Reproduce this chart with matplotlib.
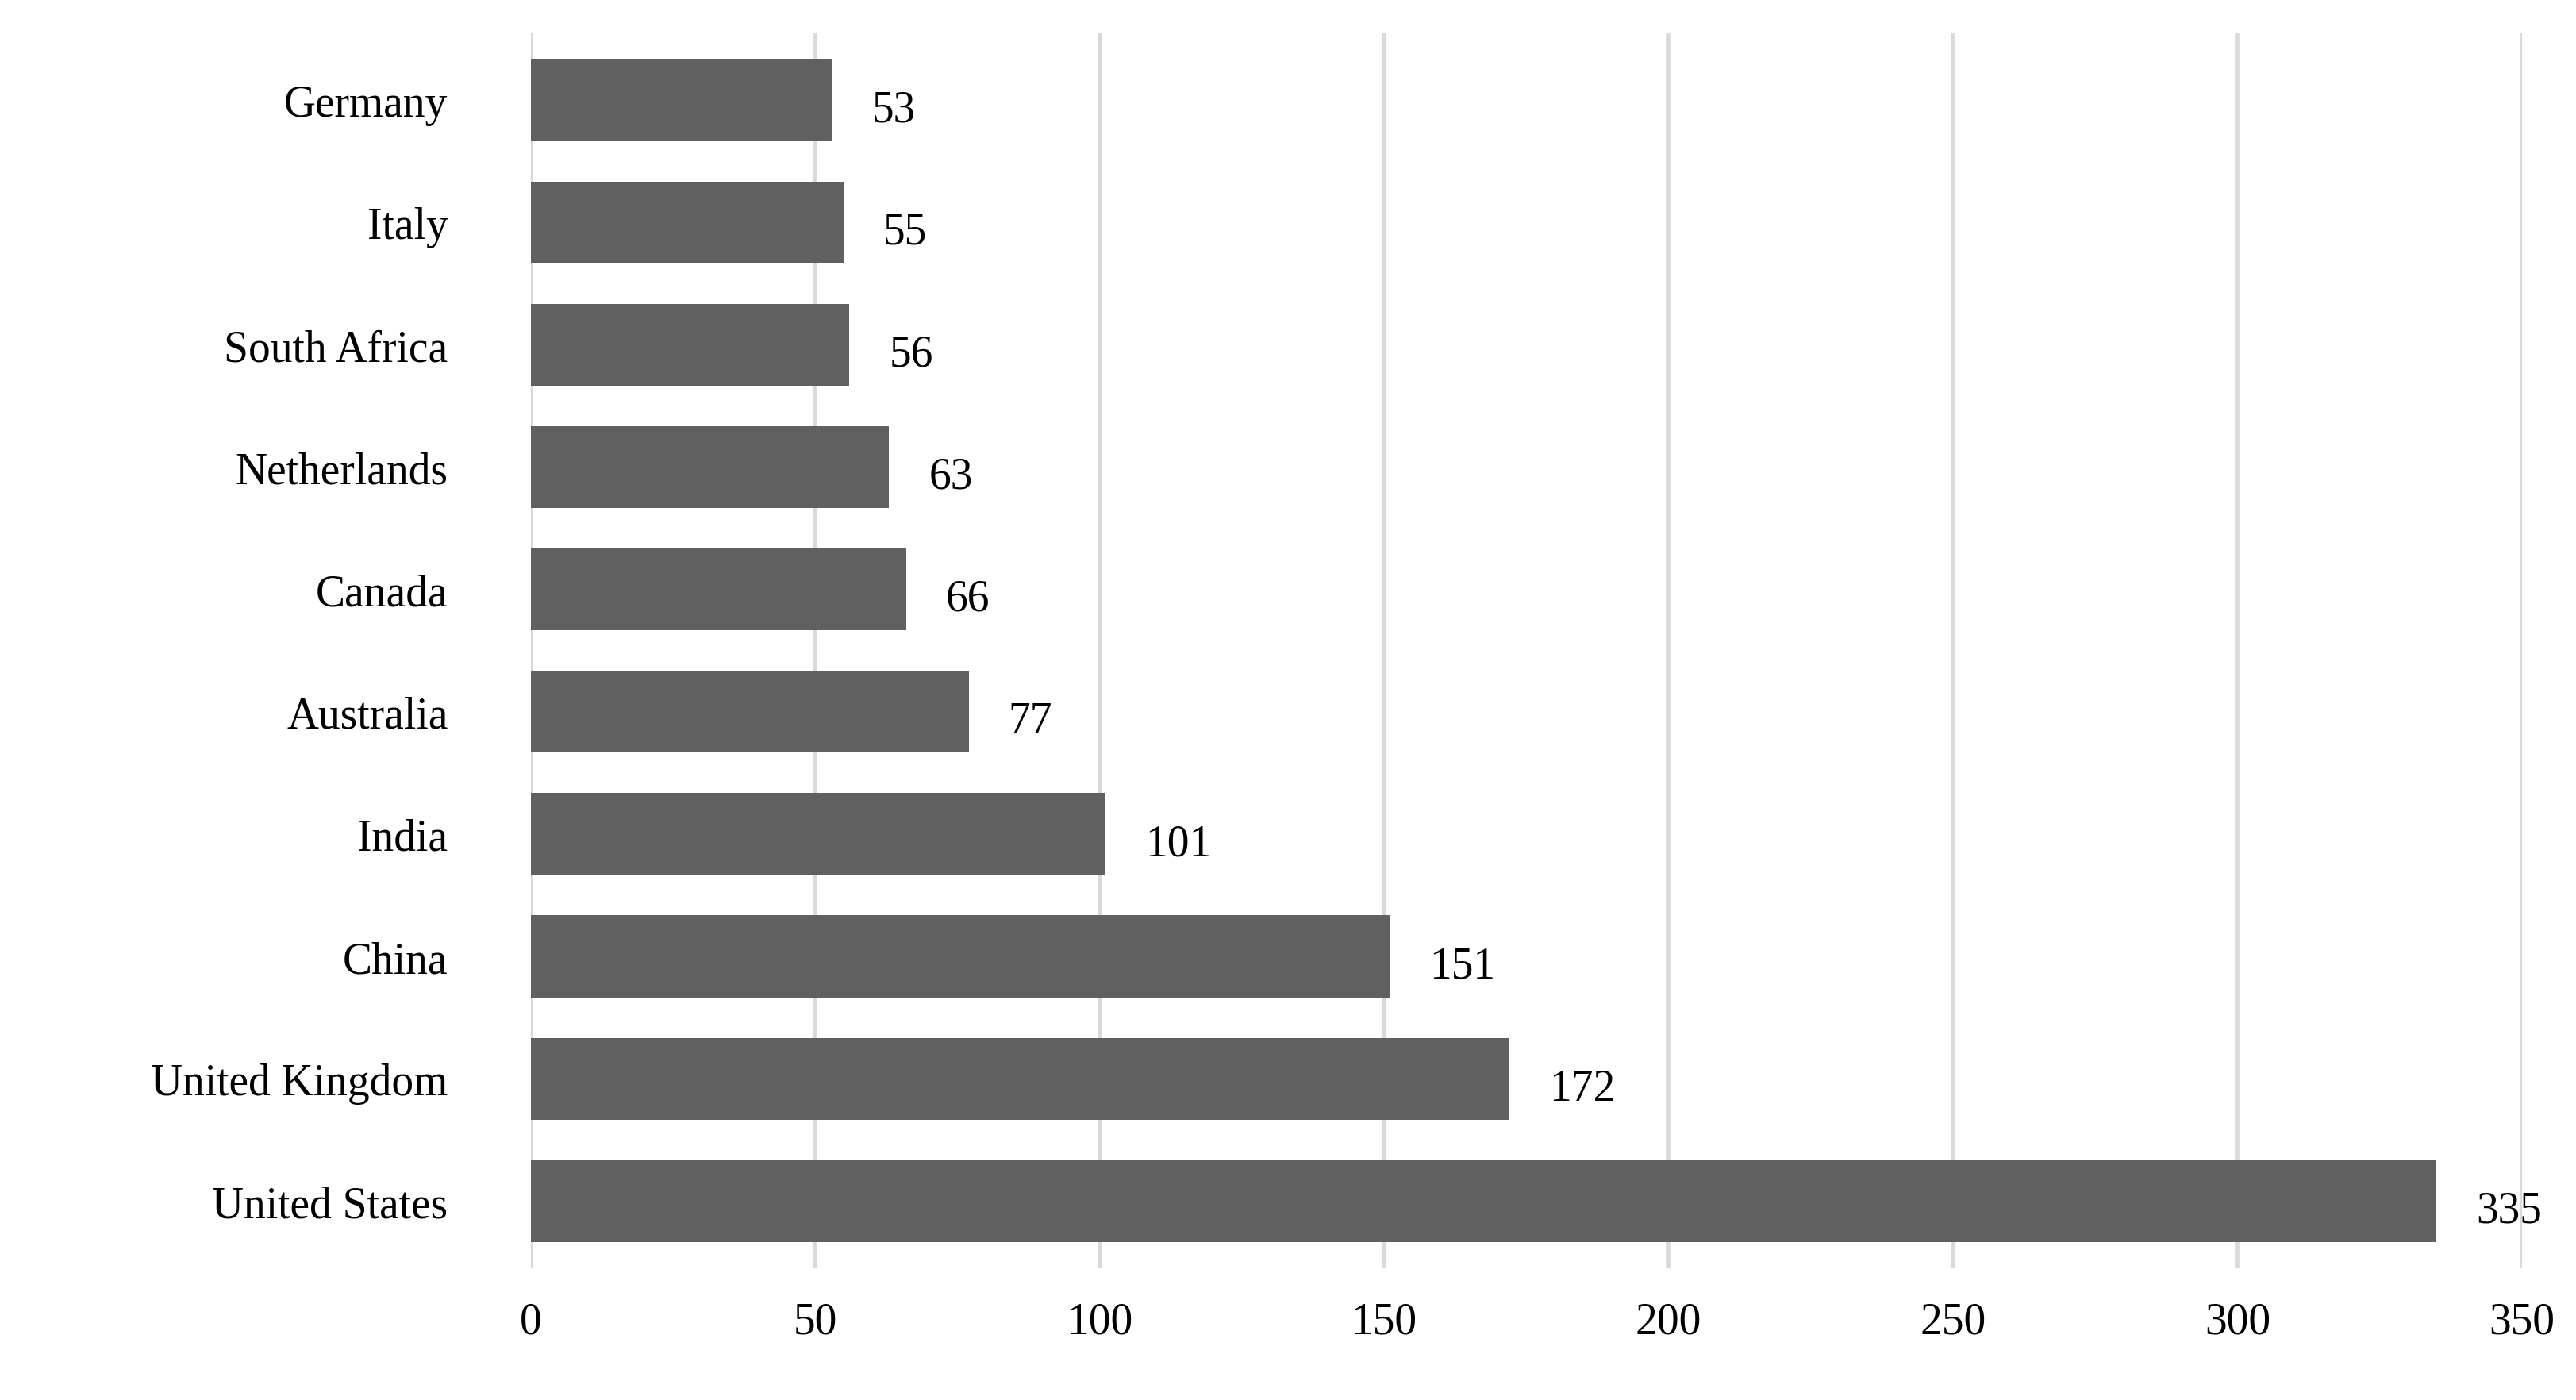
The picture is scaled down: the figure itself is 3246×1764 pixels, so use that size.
import matplotlib.pyplot as plt

countries = ["Germany", "Italy", "South Africa", "Netherlands", "Canada",
             "Australia", "India", "China", "United Kingdom", "United States"]
values = [53, 55, 56, 63, 66, 77, 101, 151, 172, 335]
x_ticks = [0, 50, 100, 150, 200, 250, 300, 350]

plt.rcParams['font.family'] = ['Liberation Serif', 'DejaVu Serif']

fig = plt.figure(figsize=(32.46, 17.65), dpi=100)
ax = fig.add_axes([0.206, 0.094, 0.773, 0.882])

y = list(range(len(countries)))
ax.barh(y, values, height=0.67, color="#606060", zorder=3)
for yi, v in zip(y, values):
    ax.text(v + 7, yi + 0.08, str(v), va="center", ha="left", fontsize=40)

ax.set_yticks(y)
ax.set_yticklabels(countries, fontsize=40)
ax.invert_yaxis()
ax.set_ylim(len(countries) - 0.45, -0.55)
ax.set_xlim(0, 350)
ax.set_xticks(x_ticks)
ax.set_xticklabels([str(t) for t in x_ticks], fontsize=40)
ax.grid(axis="x", color="#d9d9d9", linewidth=4, zorder=0)
for s in ax.spines.values():
    s.set_visible(False)
ax.tick_params(axis="both", length=0, pad=30)
ax.tick_params(axis="y", pad=75)

fig.savefig("out.png")
